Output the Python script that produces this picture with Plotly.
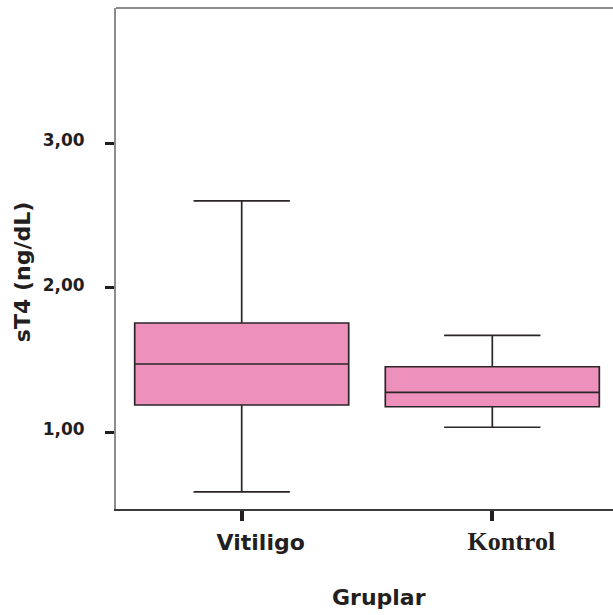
import plotly.graph_objects as go

# Data
groups = ["Vitiligo", "Kontrol"]
lower_whisker = [0.588, 1.035]
q1_vals = [1.189, 1.177]
median_vals = [1.473, 1.277]
q3_vals = [1.757, 1.454]
upper_whisker = [2.602, 1.671]
ytick_vals = [1, 2, 3]
ytick_text = ["1,00", "2,00", "3,00"]

label_fonts = ["DejaVu Sans", "Liberation Serif"]
label_sizes = [22, 26]
xtick_text = [
    f'<span style="font-family:{f};font-size:{s}px;font-weight:bold">{g}</span>'
    for g, f, s in zip(groups, label_fonts, label_sizes)
]

fig = go.Figure()
fig.add_trace(go.Box(
    x=groups,
    q1=q1_vals,
    median=median_vals,
    q3=q3_vals,
    lowerfence=lower_whisker,
    upperfence=upper_whisker,
    width=0.854,
    whiskerwidth=0.45,
    fillcolor="#EE90BC",
    line=dict(color="#2a2527", width=1.7),
    boxpoints=False,
    showlegend=False,
    hoverinfo="skip",
))

W, H = 613, 615
fig.update_layout(
    width=W, height=H,
    margin=dict(l=116, r=0, t=8, b=106),
    paper_bgcolor="white",
    plot_bgcolor="white",
    showlegend=False,
    xaxis=dict(
        type="category",
        range=[-0.5016, 1.4816],
        tickvals=groups,
        ticktext=xtick_text,
        ticks="outside", ticklen=10, tickwidth=3.5, tickcolor="#231f20",
        showline=True, linecolor="#3a3a3a", linewidth=1.5,
        showgrid=False, zeroline=False,
        tickfont=dict(family="DejaVu Sans", size=22, color="#231f20"),
        ticklabelshift=19,
        ticklabelstandoff=3,
        fixedrange=True,
    ),
    yaxis=dict(
        range=[0.469, 3.938],
        tickvals=ytick_vals,
        ticktext=ytick_text,
        ticks="outside", ticklen=9, tickwidth=3, tickcolor="#231f20",
        showline=True, linecolor="#8c8c8c", linewidth=2,
        showgrid=False, zeroline=False,
        tickfont=dict(family="DejaVu Sans", size=17, color="#231f20", weight="bold"),
        ticklabelstandoff=17,
        ticklabelshift=-3,
        fixedrange=True,
    ),
    shapes=[
        dict(type="line", xref="paper", yref="paper", x0=0, x1=1, y0=1, y1=1,
             line=dict(color="#8c8c8c", width=2)),
    ],
    annotations=[
        dict(text="<b>sT4 (ng/dL)</b>", xref="paper", yref="paper",
             x=(22 - 116) / 497, y=(509 - 272) / 501.3, textangle=-90,
             showarrow=False, xanchor="center", yanchor="middle",
             font=dict(family="DejaVu Sans", size=22, color="#231f20")),
        dict(text="<b>Gruplar</b>", xref="paper", yref="paper",
             x=(378.5 - 116) / 497, y=(509 - 598) / 501.3,
             showarrow=False, xanchor="center", yanchor="middle",
             font=dict(family="DejaVu Sans", size=22, color="#231f20")),
    ],
)

fig.write_html(
    "out.html",
    config={"displayModeBar": False},
    post_script="document.body.style.margin='0';document.body.style.overflow='hidden';",
)
